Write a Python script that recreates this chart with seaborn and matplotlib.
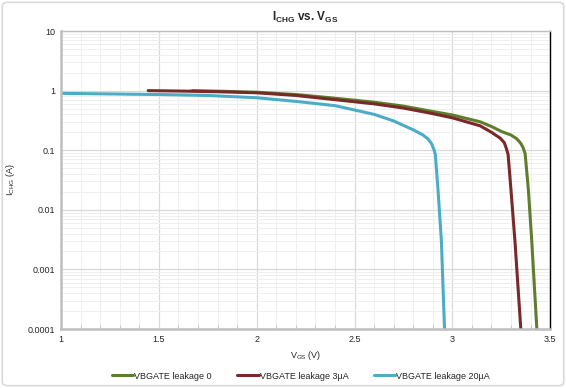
import numpy as np
import pandas as pd
import matplotlib
matplotlib.use("Agg")
import matplotlib.pyplot as plt
import matplotlib.ticker as mticker
from matplotlib.patches import FancyBboxPatch
import seaborn as sns

# VGS (V) / ICHG (A)
vgs_leak0 = [1.67, 1.8, 2.0, 2.2, 2.375, 2.6, 2.75, 2.886, 3.0, 3.142, 3.2, 3.253, 3.30, 3.33, 3.35, 3.362, 3.372, 3.389, 3.406, 3.432]
ichg_leak0 = [1.0, 0.98, 0.94, 0.86, 0.76, 0.64, 0.55, 0.455, 0.39, 0.30, 0.25, 0.205, 0.18, 0.155, 0.13, 0.11, 0.088, 0.021, 0.003, 0.0001]

vgs_leak3 = [1.445, 1.6, 1.8, 2.0, 2.2, 2.375, 2.6, 2.75, 2.886, 3.0, 3.142, 3.2, 3.244, 3.265, 3.275, 3.285, 3.30, 3.32, 3.35]
ichg_leak3 = [1.0, 0.985, 0.96, 0.92, 0.83, 0.72, 0.60, 0.51, 0.42, 0.35, 0.257, 0.2, 0.16, 0.135, 0.11, 0.085, 0.021, 0.003, 0.0001]

vgs_leak20 = [1.0, 1.25, 1.5, 1.75, 2.0, 2.2, 2.4, 2.6, 2.7, 2.8, 2.85, 2.875, 2.893, 2.905, 2.913, 2.927, 2.944, 2.96]
ichg_leak20 = [0.90, 0.88, 0.86, 0.83, 0.76, 0.66, 0.56, 0.40, 0.31, 0.22, 0.18, 0.155, 0.13, 0.105, 0.085, 0.021, 0.003, 0.0001]

series_names = ["VBGATE leakage 0", "VBGATE leakage 3µA", "VBGATE leakage 20µA"]
series_colors = ["#5e7d2d", "#7a2828", "#4aacc6"]

df = pd.concat([
    pd.DataFrame({"vgs": vgs_leak0, "ichg": ichg_leak0, "s": series_names[0]}),
    pd.DataFrame({"vgs": vgs_leak3, "ichg": ichg_leak3, "s": series_names[1]}),
    pd.DataFrame({"vgs": vgs_leak20, "ichg": ichg_leak20, "s": series_names[2]}),
], ignore_index=True)

sns.set_style("white")
plt.rcParams["font.family"] = ["Liberation Sans", "DejaVu Sans"]

fig = plt.figure(figsize=(5.66, 3.88), dpi=100)
ax = fig.add_axes([0.108, 0.152, 0.864, 0.768])

sns.lineplot(data=df, x="vgs", y="ichg", hue="s", palette=series_colors,
             hue_order=series_names, sort=False, estimator=None, lw=2.2, ax=ax)

ax.set_yscale("log")
ax.set_xlim(1, 3.5)
ax.set_ylim(1e-4, 10)
ax.xaxis.set_major_locator(mticker.MultipleLocator(0.5))
ax.xaxis.set_minor_locator(mticker.MultipleLocator(0.1))
ax.xaxis.set_major_formatter(mticker.FuncFormatter(lambda v, p: f"{v:g}"))
ax.yaxis.set_major_locator(mticker.FixedLocator([1e-4, 1e-3, 1e-2, 1e-1, 1, 10]))
ax.yaxis.set_minor_locator(mticker.LogLocator(base=10, subs=np.arange(2, 10)))
ax.yaxis.set_major_formatter(mticker.FixedFormatter(["0.0001", "0.001", "0.01", "0.1", "1", "10"]))
ax.yaxis.set_minor_formatter(mticker.NullFormatter())

ax.grid(which="major", color="#d9d9d9", lw=0.9)
ax.grid(which="minor", color="#efefef", lw=0.7)
ax.set_axisbelow(True)
ax.tick_params(axis="both", which="both", length=0, labelsize=6.5, pad=4)
ax.tick_params(axis="x", which="minor", direction="in", length=3, color="#bfbfbf", bottom=True)

for side in ["left", "bottom"]:
    ax.spines[side].set_color("#bfbfbf")
    ax.spines[side].set_linewidth(1.8)
ax.spines["top"].set_color("#bfbfbf")
ax.spines["top"].set_linewidth(1.0)
ax.spines["right"].set_color("black")
ax.spines["right"].set_linewidth(1.0)

ax.set_xlabel(r"V$_{\mathregular{GS}}$ (V)", fontsize=6.5, labelpad=4)
ax.set_ylabel(r"I$_{\mathregular{CHG}}$ (A)", fontsize=6.5)
ax.yaxis.set_label_coords(-0.09, 0.5)
fig.text(0.54, 0.955, r"I$_{\mathregular{CHG}}$ vs. V$_{\mathregular{GS}}$",
         ha="center", va="center", fontsize=8.5, fontweight="bold")

ax.legend(loc="center", bbox_to_anchor=(0.49, -0.158), ncol=3, frameon=False,
          fontsize=6.5, handlelength=2.4, handletextpad=0.1, columnspacing=2.8)

fig.patches.append(FancyBboxPatch((0.004, 0.006), 0.992, 0.988, boxstyle="round,pad=0,rounding_size=0.01",
                                  transform=fig.transFigure, fill=False, ec="#d9d9d9", lw=1.2))

fig.savefig("out.png", dpi=100)
